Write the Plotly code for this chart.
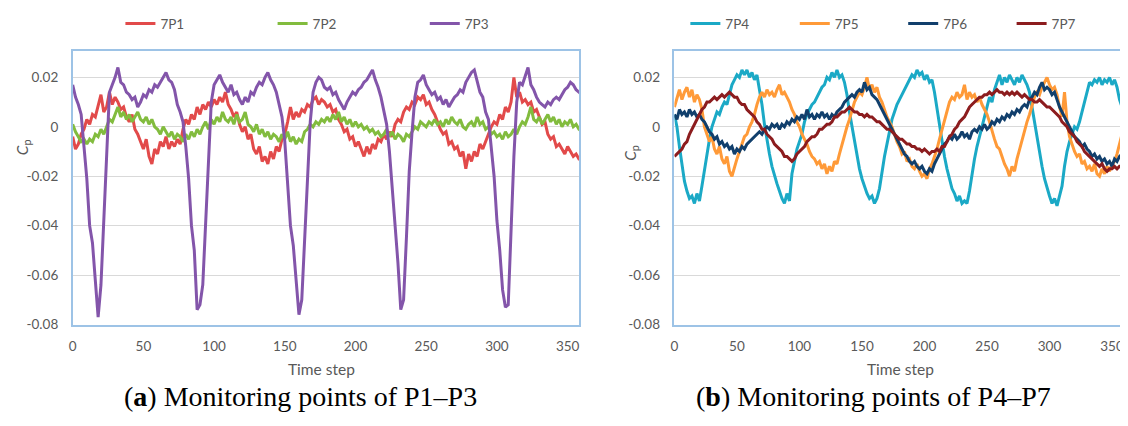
import plotly.graph_objects as go

# Time steps (every 2nd step of the 0-360 record)
time_step = list(range(0, 361, 2))

# Pressure coefficient values, in units of 0.001
cp_7P1 = [-4, -9, -7, -3, -1, 3, 1, 5, 4, 8,
          13, 6, 8, 14, 9, 12, 10, 7, 8, 4,
          2, 5, -1, -3, -6, -9, -5, -12, -15, -9,
          -11, -6, -8, -4, -9, -6, -8, -5, -7, -1,
          3, 1, 5, 3, 8, 5, 9, 7, 10, 8,
          11, 9, 12, 10, 14, 9, 7, 4, 6, 1,
          -2, 0, -5, -3, -9, -11, -8, -14, -12, -15,
          -10, -13, -8, -10, -5, -3, 2, 8, 3, 6,
          4, 7, 6, 9, 8, 11, 12, 9, 11, 10,
          8, 9, 6, 7, 3, 1, -2, -1, -5, -4,
          -8, -6, -9, -12, -8, -11, -7, -9, -5, -6,
          -3, -5, -2, -4, 1, 3, 2, 6, 8, 7,
          10, 9, 12, 11, 13, 9, 10, 7, 5, 2,
          -1, -3, -2, -7, -6, -9, -8, -12, -10, -17,
          -11, -14, -10, -12, -7, -9, -6, -3, 0, 2,
          1, 5, 3, 8, 6, 10, 20, 12, 14, 10,
          11, 9, 10, 6, 7, 4, 1, 2, -3, -5,
          -4, -8, -7, -9, -11, -8, -10, -12, -11, -13,
          -13]

cp_7P2 = [1, -2, -4, -6, -5, -7, -5, -6, -3, -4,
          -1, -3, 0, 3, 2, 5, 8, 4, 6, 3,
          5, 2, 4, 6, 3, 2, 4, 1, 3, 0,
          -1, -3, 0, -2, -4, -2, -5, -3, -4, -6,
          -3, -5, -2, -4, -1, -3, 0, 2, -1, 3,
          1, 4, 2, 6, 3, 2, 4, 1, 5, 2,
          3, 6, 1, 0, -2, 1, -3, -1, -4, -2,
          -5, -3, -4, -6, -3, -5, -2, -6, -4, -7,
          -5, -6, -2, -1, 1, 0, 2, 1, 3, 2,
          4, 2, 5, 3, 6, 2, 4, 1, 3, 0,
          2, 0, 1, -1, 0, -2, -1, -3, -2, -4,
          -3, -1, -4, -2, -5, -3, -4, -6, -3, -4,
          -2, 0, -1, 2, 1, 0, 2, 1, 3, 1,
          2, 0, 3, 1, 4, 2, 1, 3, 0, -1,
          1, 2, 0, 4, 1, 2, -1, 0, -3, -2,
          -4, -3, -5, -2, -4, -3, -1, -3, 0, 2,
          1, 4, 8, 3, 2, 4, 1, 3, 5, 2,
          4, 1, 3, 0, 2, 1, 3, 0, 1, -1,
          -2]

cp_7P3 = [17, 12, 9, 5, -8, -21, -40, -47, -62, -77,
          -64, -38, -8, 14, 17, 20, 24, 18, 17, 14,
          13, 11, 12, 8, 10, 13, 12, 15, 14, 17,
          16, 18, 20, 22, 19, 18, 15, 9, 6, 2,
          -8, -21, -40, -50, -74, -72, -64, -40, -12, 10,
          17, 19, 21, 18, 16, 14, 17, 13, 14, 11,
          9, 12, 10, 14, 13, 16, 18, 17, 20, 22,
          19, 17, 14, 9, 4, -6, -21, -40, -48, -62,
          -76, -70, -45, -20, 2, 14, 18, 20, 19, 16,
          15, 16, 13, 14, 11, 9, 7, 10, 12, 14,
          13, 15, 16, 18, 19, 21, 23, 19, 16, 12,
          6, 1, -10, -25, -42, -55, -74, -70, -45, -18,
          -2, 12, 18, 19, 21, 17, 15, 13, 14, 11,
          12, 9, 11, 8, 10, 12, 13, 15, 14, 18,
          20, 22, 23, 18, 14, 12, 6, 3, -8, -20,
          -38, -50, -66, -73, -72, -40, -12, 10, 18, 17,
          21, 24, 17, 15, 12, 10, 9, 8, 10, 9,
          11, 12, 11, 13, 15, 16, 18, 17, 15, 14,
          13]

cp_7P4 = [5, 0, -8, -15, -22, -26, -29, -28, -31, -27,
          -30, -24, -17, -10, -5, 0, 3, 6, 5, 8,
          10, 9, 13, 17, 19, 21, 20, 23, 21, 23,
          20, 22, 19, 21, 15, 9, 1, -6, -11, -16,
          -20, -23, -26, -29, -31, -27, -30, -19, -14, -9,
          -6, -3, 2, 5, 7, 9, 10, 12, 14, 16,
          17, 20, 19, 22, 20, 23, 20, 21, 18, 13,
          6, 0, -6, -11, -17, -21, -24, -27, -29, -28,
          -31, -29, -25, -18, -12, -7, -2, 3, 6, 9,
          11, 13, 15, 17, 19, 21, 20, 23, 21, 22,
          19, 21, 18, 19, 14, 7, 0, -7, -12, -17,
          -21, -25, -27, -30, -28, -31, -30, -31, -26, -19,
          -13, -8, -4, 0, 4, 8, 12, 10, 15, 18,
          21, 17, 20, 18, 21, 19, 17, 20, 18, 21,
          19, 17, 14, 8, 1, -5, -11, -16, -21, -25,
          -28, -31, -29, -32, -28, -24, -16, -10, -6, -3,
          0, -1, 2, 6, 10, 14, 18, 17, 19, 18,
          20, 17, 19, 18, 20, 17, 19, 16, 11, 8,
          7]

cp_7P5 = [8, 12, 15, 11, 14, 16, 12, 15, 10, 13,
          11, 7, 0, -3, -6, -4, -9, -11, -8, -13,
          -15, -12, -18, -20, -16, -13, -10, -7, -4, -3,
          0, 2, 5, 9, 12, 14, 12, 15, 13, 14,
          12, 15, 17, 13, 14, 12, 10, 7, 5, 2,
          0, -3, -5, -7, -10, -12, -13, -15, -14, -17,
          -15, -19, -16, -18, -14, -15, -11, -7, -4, 0,
          3, 7, 10, 12, 14, 13, 16, 20, 15, 17,
          14, 16, 12, 10, 7, 4, 2, 0, -3, -6,
          -8, -11, -10, -14, -13, -16, -17, -15, -18, -20,
          -19, -21, -17, -15, -12, -9, -5, -1, 3, 7,
          10, 12, 11, 14, 12, 13, 17, 11, 14, 12,
          13, 10, 12, 9, 7, 5, 2, -2, -5, -8,
          -9, -12, -15, -17, -20, -16, -18, -13, -9, -5,
          -1, 2, 5, 9, 12, 14, 13, 16, 18, 20,
          17, 15, 16, 13, 8, 4, 14, 2, -4, -7,
          -10, -12, -11, -15, -14, -17, -16, -18, -15, -19,
          -20, -17, -19, -16, -18, -15, -14, -11, -7, -3,
          -6]

cp_7P6 = [5, 3, 7, 5, 6, 4, 7, 5, 6, 4,
          5, 3, 2, 0, -2, -3, -5, -4, -7, -6,
          -8, -7, -9, -8, -11, -9, -10, -8, -9, -7,
          -6, -5, -4, -3, -2, -3, -1, 0, -1, 1,
          0, 1, -1, 1, 0, 2, 1, 3, 2, 4,
          3, 5, 3, 7, 4, 5, 3, 5, 4, 6,
          4, 5, 3, 5, 4, 6, 7, 8, 10, 11,
          12, 13, 12, 14, 15, 14, 18, 15, 16, 13,
          12, 11, 9, 7, 5, 3, 1, -1, -3, -5,
          -7, -9, -11, -12, -14, -15, -14, -16, -17, -16,
          -18, -19, -17, -18, -15, -13, -11, -9, -7, -6,
          -4, -5, -3, -5, -4, -2, -4, -3, -5, -2,
          -1, -2, 0, -1, 1, -1, 0, 2, 1, 3,
          2, 4, 3, 5, 4, 6, 5, 7, 6, 8,
          9, 8, 11, 12, 14, 13, 16, 18, 15, 16,
          15, 13, 14, 11, 8, 6, 4, 2, 0, -2,
          -4, -5, -6, -8, -7, -9, -10, -12, -11, -13,
          -12, -14, -13, -15, -14, -16, -13, -14, -12, -11,
          -10]

cp_7P7 = [-12, -11, -10, -9, -7, -6, -3, -1, 1, 3,
          5, 7, 8, 10, 10, 11, 12, 11, 12, 13,
          12, 13, 14, 13, 12, 12, 10, 9, 9, 7,
          6, 5, 4, 2, 1, -1, -1, -3, -4, -5,
          -7, -8, -9, -10, -12, -12, -13, -14, -13, -11,
          -10, -9, -8, -6, -5, -4, -4, -3, -1, -1,
          0, 1, 1, 2, 4, 4, 5, 6, 6, 7,
          8, 7, 6, 6, 5, 5, 4, 5, 4, 4,
          3, 2, 2, 1, 0, -1, -1, -2, -3, -4,
          -5, -5, -6, -7, -7, -8, -8, -9, -9, -10,
          -9, -10, -11, -10, -10, -9, -10, -8, -8, -6,
          -4, -3, -1, 0, 2, 3, 4, 6, 8, 9,
          10, 11, 12, 12, 13, 13, 14, 13, 14, 15,
          14, 14, 13, 14, 13, 14, 13, 14, 13, 12,
          13, 12, 11, 11, 10, 10, 11, 10, 9, 8,
          8, 7, 6, 5, 4, 2, 1, 0, -2, -3,
          -4, -6, -7, -8, -10, -11, -12, -13, -14, -15,
          -16, -15, -17, -18, -17, -17, -16, -17, -16, -16,
          -16]

x_ticks = [0, 50, 100, 150, 200, 250, 300, 350]
y_ticks = [-0.08, -0.06, -0.04, -0.02, 0, 0.02]
y_tick_labels = ["-0.08", "-0.06", "-0.04", "-0.02", "0", "0.02"]

# The page body has an 8 px margin: the figure is 1120x418 drawn from (8, 8)
OFF = 8
W, H = 1128 - OFF, 426 - OFF
def px(x):
    return (x - OFF) / W
def py(y):
    return 1 - (y - OFF) / H

series = [
    ("7P1", cp_7P1, "#E24A4A", "x", "y", "legend"),
    ("7P2", cp_7P2, "#82BC3E", "x", "y", "legend2"),
    ("7P3", cp_7P3, "#8355AA", "x", "y", "legend3"),
    ("7P4", cp_7P4, "#1BA9C6", "x2", "y2", "legend4"),
    ("7P5", cp_7P5, "#FF9A38", "x2", "y2", "legend5"),
    ("7P6", cp_7P6, "#113F6C", "x2", "y2", "legend6"),
    ("7P7", cp_7P7, "#8C1C1E", "x2", "y2", "legend7"),
]

fig = go.Figure()
for name, vals, color, xa, ya, lg in series:
    fig.add_trace(go.Scatter(
        x=time_step, y=[v / 1000 for v in vals], mode="lines", name=name,
        line=dict(color=color, width=3), xaxis=xa, yaxis=ya, legend=lg,
        showlegend=True,
    ))

tick_font = dict(family="Lato", size=13.5, color="#595959")
border = "#9DC3E6"
xcommon = dict(range=[0, 358], tickvals=x_ticks, showgrid=False, zeroline=False,
               showline=True, mirror=True, linecolor=border, linewidth=1.5,
               ticks="", tickfont=tick_font, ticklabelstandoff=9, fixedrange=True)
ycommon = dict(range=[-0.08, 0.0307], tickvals=y_ticks, ticktext=y_tick_labels,
               showgrid=True, gridcolor="#D9D9D9", gridwidth=1, zeroline=False,
               showline=True, mirror=True, linecolor=border, linewidth=1.5,
               ticks="", tickfont=tick_font, ticklabelstandoff=10, fixedrange=True)

ydom = [py(330), py(49)]
fig.update_layout(
    width=W, height=H, margin=dict(l=0, r=0, t=0, b=0),
    paper_bgcolor="white", plot_bgcolor="white", showlegend=True,
    xaxis=dict(domain=[px(69), px(578)], anchor="y", **xcommon),
    yaxis=dict(domain=ydom, anchor="x", **ycommon),
    xaxis2=dict(domain=[px(674), px(1124)], anchor="y2", **xcommon),
    yaxis2=dict(domain=ydom, anchor="x2", **ycommon),
)

leg_font = dict(family="Lato", size=13.5, color="#595959")
leg_x = {"legend": 117, "legend2": 270, "legend3": 423,
         "legend4": 685, "legend5": 795, "legend6": 904, "legend7": 1013}
for key, lx in leg_x.items():
    fig.update_layout({key: dict(x=px(lx), y=py(21), xanchor="left", yanchor="middle",
                                 orientation="h", bgcolor="rgba(0,0,0,0)", visible=True,
                                 font=leg_font, itemwidth=30, borderwidth=0)})

title_font = dict(family="Lato", size=15.5, color="#595959")
cap_font = dict(family="Liberation Serif", size=28, color="black")
ann = [
    dict(text="Time step", x=px(319), y=py(376), font=title_font),
    dict(text="Time step", x=px(901), y=py(376), font=title_font),
    dict(text="<i>C</i><sub>p</sub>", x=px(19), y=py(148), textangle=-90, font=title_font),
    dict(text="<i>C</i><sub>p</sub>", x=px(630), y=py(154), textangle=-90, font=title_font),
    dict(text="(<b>a</b>) Monitoring points of P1–P3", x=px(298), y=py(404), font=cap_font),
    dict(text="(<b>b</b>) Monitoring points of P4–P7", x=px(874), y=py(404), font=cap_font),
]
for a in ann:
    a.update(xref="paper", yref="paper", xanchor="center", yanchor="middle", showarrow=False)
fig.update_layout(annotations=ann)

fig.write_html("out.html")
